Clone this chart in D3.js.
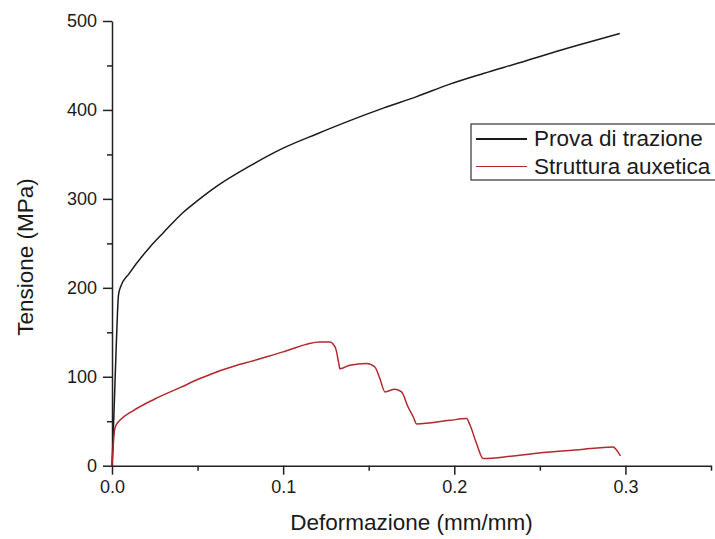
<!DOCTYPE html>
<html>
<head>
<meta charset="utf-8">
<script src="https://cdn.jsdelivr.net/npm/d3@7"></script>
<style>
    body { margin: 0; background: #fff; }
    svg { display: block; font-family: Arial, "Liberation Sans", sans-serif; }
    .axis path, .axis line { stroke: #222; stroke-width: 1.5; }
    .axis text { fill: #1a1a1a; font-size: 18px; }
</style>
</head>
<body>
<div id="chart"></div>
<script>
// curve points: [strain, stress]
const provaTrazione = [
    [0, 0], [0.0008, 40], [0.0016, 85], [0.0024, 130], [0.0032, 172], [0.0038, 192],
    [0.005, 201], [0.01, 216], [0.0222, 246], [0.03, 262], [0.0417, 285], [0.05, 298],
    [0.0611, 314], [0.0806, 337], [0.1, 357], [0.1196, 373], [0.139, 388], [0.1585, 402],
    [0.178, 415], [0.1974, 429], [0.217, 441], [0.238, 453], [0.26, 466], [0.28, 477],
    [0.2967, 486]
];
const strutturaAuxetica = [
    [0, 0], [0.0005, 15], [0.001, 30], [0.0015, 40], [0.0025, 46], [0.0046, 51],
    [0.0125, 62], [0.025, 75], [0.04, 88], [0.0514, 98], [0.0748, 114], [0.0806, 117],
    [0.1, 128], [0.1215, 139], [0.1273, 139], [0.1295, 136], [0.131, 130], [0.1325, 115],
    [0.1332, 109], [0.139, 113], [0.1487, 115], [0.1536, 111], [0.1565, 98], [0.1595, 83],
    [0.1653, 86], [0.1692, 83], [0.173, 66], [0.176, 55], [0.178, 47], [0.1974, 51],
    [0.2072, 53], [0.2091, 46], [0.213, 25], [0.2169, 8], [0.2344, 11], [0.2538, 15],
    [0.273, 18], [0.2928, 21], [0.2947, 18], [0.2971, 11]
];
const xMajor = [0, 0.1, 0.2, 0.3];
const xMinor = [0.05, 0.15, 0.25, 0.35];
const yMajor = [0, 100, 200, 300, 400, 500];
const yMinor = [50, 150, 250, 350, 450];
const seriesNames = ["Prova di trazione", "Struttura auxetica"];
const seriesColors = ["#1a1a1a", "#b3282d"];

const width = 715, height = 539;
const margin = { left: 112, right: 4, top: 21, bottom: 73 };

const svg = d3.select("#chart").append("svg")
    .attr("width", width)
    .attr("height", height);

const x = d3.scaleLinear().domain([0, 0.35]).range([margin.left, 711]);
const y = d3.scaleLinear().domain([0, 500]).range([465.7, margin.top]);

// minor ticks first, then the main axes on top
svg.append("g").attr("class", "axis")
    .attr("transform", `translate(0,${y(0)})`)
    .call(d3.axisBottom(x).tickValues(xMinor).tickSize(5).tickFormat(""))
    .select(".domain").remove();
svg.append("g").attr("class", "axis")
    .attr("transform", `translate(${x(0)},0)`)
    .call(d3.axisLeft(y).tickValues(yMinor).tickSize(5).tickFormat(""))
    .select(".domain").remove();

svg.append("g").attr("class", "axis")
    .attr("transform", `translate(0,${y(0)})`)
    .call(d3.axisBottom(x).tickValues(xMajor).tickSize(9).tickSizeOuter(0).tickPadding(6).tickFormat(d3.format(".1f")));
svg.append("g").attr("class", "axis")
    .attr("transform", `translate(${x(0)},0)`)
    .call(d3.axisLeft(y).tickValues(yMajor).tickSize(9).tickSizeOuter(0).tickPadding(6));

const line = d3.line()
    .curve(d3.curveMonotoneX)
    .x(d => x(d[0]))
    .y(d => y(d[1]));

[provaTrazione, strutturaAuxetica].forEach((data, i) => {
    svg.append("path")
        .datum(data)
        .attr("fill", "none")
        .attr("stroke", seriesColors[i])
        .attr("stroke-width", 1.5)
        .attr("stroke-linejoin", "round")
        .attr("d", line);
});

// axis titles
svg.append("text")
    .attr("x", x(0.175))
    .attr("y", 530)
    .attr("text-anchor", "middle")
    .attr("font-size", 22.5)
    .attr("fill", "#1a1a1a")
    .text("Deformazione (mm/mm)");

svg.append("text")
    .attr("transform", "translate(33,257) rotate(-90)")
    .attr("text-anchor", "middle")
    .attr("font-size", 22.5)
    .attr("fill", "#1a1a1a")
    .text("Tensione (MPa)");

// legend (runs past the right edge, as in the picture)
const legend = svg.append("g").attr("transform", "translate(471,124)");
legend.append("rect")
    .attr("width", 260)
    .attr("height", 56)
    .attr("fill", "#fff")
    .attr("stroke", "#333")
    .attr("stroke-width", 1.2);

seriesNames.forEach((name, i) => {
    const row = legend.append("g").attr("transform", `translate(0,${15 + i * 27.5})`);
    row.append("line")
        .attr("x1", 5).attr("x2", 56)
        .attr("stroke", seriesColors[i])
        .attr("stroke-width", i === 0 ? 2 : 1.2);
    row.append("text")
        .attr("x", 63)
        .attr("y", 7)
        .attr("font-size", 22.5)
        .attr("fill", "#1a1a1a")
        .text(name);
});
</script>
</body>
</html>
